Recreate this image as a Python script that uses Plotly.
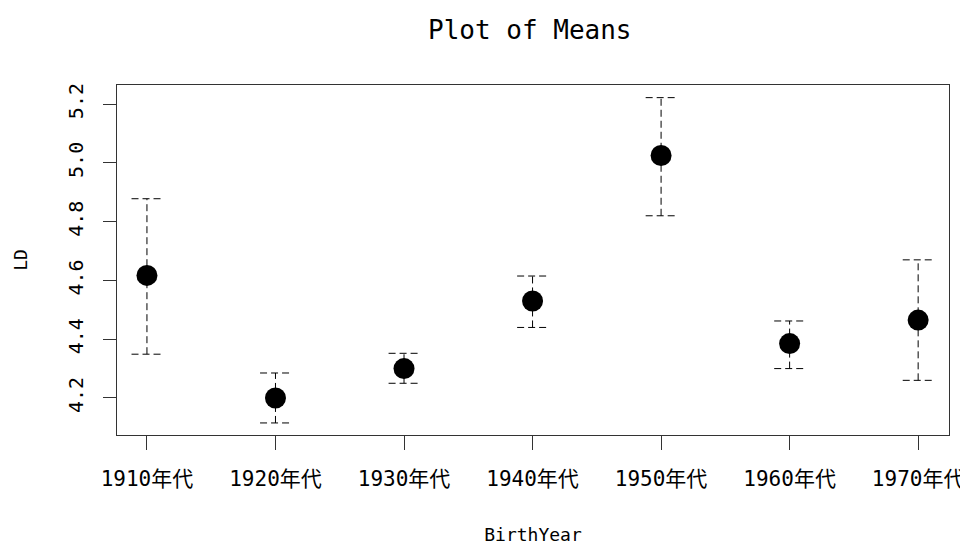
import plotly.graph_objects as go

# =============================================================================
# DATA
# =============================================================================
categories = ["1910年代", "1920年代", "1930年代", "1940年代", "1950年代", "1960年代", "1970年代"]
means = [4.617, 4.200, 4.300, 4.530, 5.025, 4.385, 4.465]
upper = [4.878, 4.285, 4.352, 4.615, 5.222, 4.462, 4.670]
lower = [4.349, 4.115, 4.250, 4.440, 4.820, 4.300, 4.260]
y_ticks = [4.2, 4.4, 4.6, 4.8, 5.0, 5.2]

# =============================================================================
# FIGURE
# =============================================================================
xs = list(range(1, len(categories) + 1))
cap = 0.12

# vertical dashed bars
bar_x, bar_y = [], []
for x, lo, hi in zip(xs, lower, upper):
    bar_x += [x, x, None]
    bar_y += [lo, hi, None]

# dashed caps
cap_x, cap_y = [], []
for x, lo, hi in zip(xs, lower, upper):
    cap_x += [x - cap, x + cap, None, x - cap, x + cap, None]
    cap_y += [hi, hi, None, lo, lo, None]

fig = go.Figure()
fig.add_trace(go.Scatter(
    x=bar_x, y=bar_y, mode='lines', hoverinfo='skip',
    line=dict(color='black', width=1, dash='7px,4px')
))
fig.add_trace(go.Scatter(
    x=cap_x, y=cap_y, mode='lines', hoverinfo='skip',
    line=dict(color='black', width=1, dash='7px,4px')
))
fig.add_trace(go.Scatter(
    x=xs, y=means, mode='markers',
    marker=dict(color='black', size=21, line=dict(width=0))
))

mono = "DejaVu Sans Mono, Noto Sans CJK JP"

# page has an 8px body margin, so margins are trimmed by 8px
fig.update_layout(
    width=968, height=549,
    margin=dict(t=77, b=122, l=108, r=26),
    plot_bgcolor='white', paper_bgcolor='white',
    showlegend=False,
    title=dict(text="Plot of Means", x=0.539, xanchor='center', y=0.961, yanchor='middle',
               font=dict(family=mono, size=26, color='black')),
    xaxis=dict(
        range=[0.767, 7.24], tickvals=xs, ticktext=categories,
        showgrid=False, zeroline=False,
        showline=True, linecolor='#333', linewidth=1, mirror=True,
        ticks='outside', ticklen=14, tickcolor='#333', ticklabelstandoff=11,
        tickfont=dict(family=mono, size=21, color='black'),
        title=dict(text="BirthYear", standoff=38,
                   font=dict(family=mono, size=18, color='black'))
    ),
    yaxis=dict(
        range=[4.074, 5.265], tickvals=y_ticks, ticktext=[f"{v:.1f}" for v in y_ticks],
        tickangle=-90,
        showgrid=False, zeroline=False,
        showline=True, linecolor='#333', linewidth=1, mirror=True,
        ticks='outside', ticklen=13, tickcolor='#333', ticklabelstandoff=12,
        tickfont=dict(family=mono, size=20, color='black'),
        title=dict(text="LD", standoff=31,
                   font=dict(family=mono, size=18, color='black'))
    )
)

fig.write_html("out.html")
